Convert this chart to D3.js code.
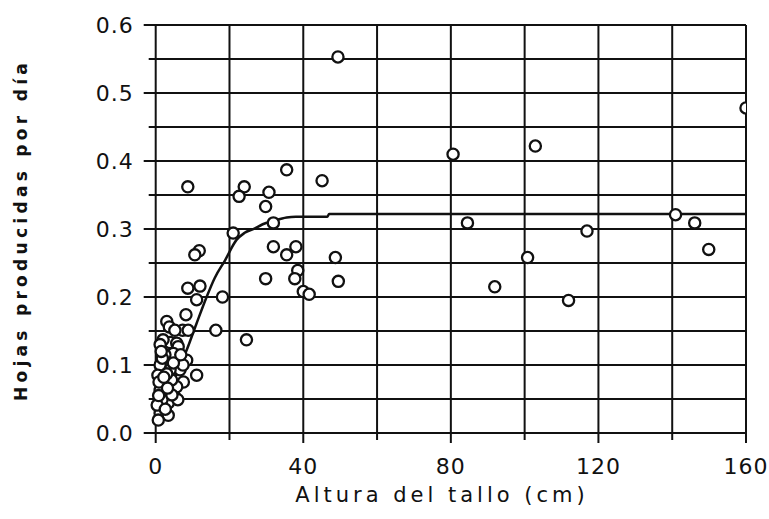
<!DOCTYPE html>
<html>
<head>
<meta charset="utf-8">
<script src="https://cdn.jsdelivr.net/npm/d3@7"></script>
<style>
  html, body { margin: 0; padding: 0; background: #fff; }
  svg { display: block; }
</style>
</head>
<body>
<div id="chart"></div>
<script>
// observed points: stem height (cm) and leaves per day
const alturaCm = [
  49.4, 8.7, 24.0, 22.6, 35.5, 45.1, 30.7, 29.8, 21.0, 31.9, 31.9, 38.0, 35.5, 48.7,
  38.5, 29.8, 37.7, 49.5, 40.0, 41.6, 18.1, 11.8, 10.6, 8.7, 12.0, 11.1, 16.3, 24.6,
  3.0, 3.7, 8.2, 7.3, 8.8, 3.9, 5.7, 6.1, 4.8, 8.4, 11.1, 7.5, 2.1, 1.6, 5.2, 3.4,
  1.2, 3.4, 0.7, 6.6, 5.7, 4.3, 2.5, 2.5, 2.0, 1.2, 0.6, 1.7, 3.9, 0.4, 1.2, 5.2,
  1.2, 6.0, 7.4, 4.4, 1.8, 3.0, 0.9, 2.6, 4.8, 1.5, 3.2, 0.8, 2.2, 6.8,
  80.6, 102.9, 84.5, 116.9, 100.8, 91.9, 111.9, 140.9, 146.1, 149.9, 160
];
const hojasDia = [
  0.553, 0.362, 0.362, 0.348, 0.387, 0.371, 0.354, 0.333, 0.294, 0.309, 0.274, 0.274, 0.262, 0.258,
  0.239, 0.227, 0.227, 0.223, 0.208, 0.204, 0.200, 0.268, 0.262, 0.213, 0.216, 0.196, 0.151, 0.137,
  0.164, 0.156, 0.174, 0.151, 0.151, 0.133, 0.132, 0.127, 0.117, 0.107, 0.085, 0.075, 0.097, 0.073, 0.053, 0.044,
  0.029, 0.026, 0.019, 0.093, 0.068, 0.078, 0.058, 0.115, 0.137, 0.100, 0.085, 0.049, 0.093, 0.041, 0.063, 0.151,
  0.130, 0.049, 0.100, 0.056, 0.110, 0.087, 0.075, 0.035, 0.103, 0.120, 0.066, 0.055, 0.082, 0.115,
  0.410, 0.422, 0.309, 0.297, 0.258, 0.215, 0.195, 0.321, 0.309, 0.270, 0.478
];

// fitted curve
const curvaX = [0, 2, 4, 6, 8.4, 11, 13.8, 16, 18.8, 21.9, 24, 26.9, 29, 31.9, 35.5, 38, 46.5, 47, 160];
const curvaY = [0.015, 0.04, 0.065, 0.092, 0.122, 0.16, 0.2, 0.228, 0.254, 0.284, 0.294, 0.301, 0.307, 0.312, 0.317, 0.318, 0.318, 0.322, 0.322];

const xTicks = [0, 40, 80, 120, 160];
const xGrid = [0, 20, 40, 60, 80, 100, 120, 140, 160];
const yTicks = [0, 0.1, 0.2, 0.3, 0.4, 0.5, 0.6];
const yGrid = d3.range(0, 13).map(i => i * 0.05);

const W = 769, H = 519;
const margin = { top: 25, right: 23, bottom: 86, left: 155.7 };
const innerW = W - margin.left - margin.right;
const innerH = H - margin.top - margin.bottom;
const ink = '#111';

const svg = d3.select('#chart')
  .append('svg')
  .attr('width', W)
  .attr('height', H)
  .attr('font-family', '"DejaVu Sans", Verdana, sans-serif');

const x = d3.scaleLinear().domain([0, 160]).range([0, innerW]);
const y = d3.scaleLinear().domain([0, 0.6]).range([innerH, 0]);

const g = svg.append('g').attr('transform', `translate(${margin.left},${margin.top})`);

svg.append('clipPath').attr('id', 'plot-clip')
  .append('rect')
  .attr('x', margin.left - 10).attr('y', margin.top - 10)
  .attr('width', innerW + 10).attr('height', innerH + 20);

// horizontal grid lines, major ones stick out further on the left
g.append('g').selectAll('line')
  .data(yGrid)
  .join('line')
  .attr('x1', (d, i) => i % 2 === 0 ? -12 : -7)
  .attr('x2', innerW)
  .attr('y1', d => y(d))
  .attr('y2', d => y(d))
  .attr('stroke', ink)
  .attr('stroke-width', 2);

// vertical grid lines with ticks below the axis
g.append('g').selectAll('line')
  .data(xGrid)
  .join('line')
  .attr('x1', d => x(d))
  .attr('x2', d => x(d))
  .attr('y1', 0)
  .attr('y2', (d, i) => innerH + (i % 2 === 0 ? 10 : 7))
  .attr('stroke', ink)
  .attr('stroke-width', 2);

// y tick labels
g.append('g').selectAll('text')
  .data(yTicks)
  .join('text')
  .attr('x', -22)
  .attr('y', d => y(d))
  .attr('dy', '0.36em')
  .attr('text-anchor', 'end')
  .attr('font-size', 22)
  .attr('letter-spacing', 1)
  .attr('fill', ink)
  .text(d => d.toFixed(1));

// x tick labels
g.append('g').selectAll('text')
  .data(xTicks)
  .join('text')
  .attr('x', d => x(d))
  .attr('y', innerH + 41)
  .attr('text-anchor', 'middle')
  .attr('font-size', 22)
  .attr('letter-spacing', 1)
  .attr('fill', ink)
  .text(d => d);

// fitted curve
const line = d3.line()
  .x((d, i) => x(curvaX[i]))
  .y(d => y(d))
  .curve(d3.curveMonotoneX);

g.append('path')
  .datum(curvaY)
  .attr('d', line)
  .attr('fill', 'none')
  .attr('stroke', ink)
  .attr('stroke-width', 2.5);

// points
svg.append('g')
  .attr('clip-path', 'url(#plot-clip)')
  .append('g')
  .attr('transform', `translate(${margin.left},${margin.top})`)
  .selectAll('circle')
  .data(alturaCm.map((a, i) => ({ a, h: hojasDia[i] })))
  .join('circle')
  .attr('cx', d => x(d.a))
  .attr('cy', d => y(d.h))
  .attr('r', 5.6)
  .attr('fill', '#fff')
  .attr('stroke', ink)
  .attr('stroke-width', 2.3);

// axis titles
svg.append('text')
  .attr('x', 442)
  .attr('y', 502)
  .attr('text-anchor', 'middle')
  .attr('font-size', 21)
  .attr('letter-spacing', 4)
  .attr('fill', ink)
  .text('Altura del tallo (cm)');

svg.append('text')
  .attr('transform', 'translate(27,230) rotate(-90)')
  .attr('text-anchor', 'middle')
  .attr('font-size', 17)
  .attr('font-weight', 'bold')
  .attr('letter-spacing', 4.3)
  .attr('fill', ink)
  .text('Hojas producidas por día');
</script>
</body>
</html>
